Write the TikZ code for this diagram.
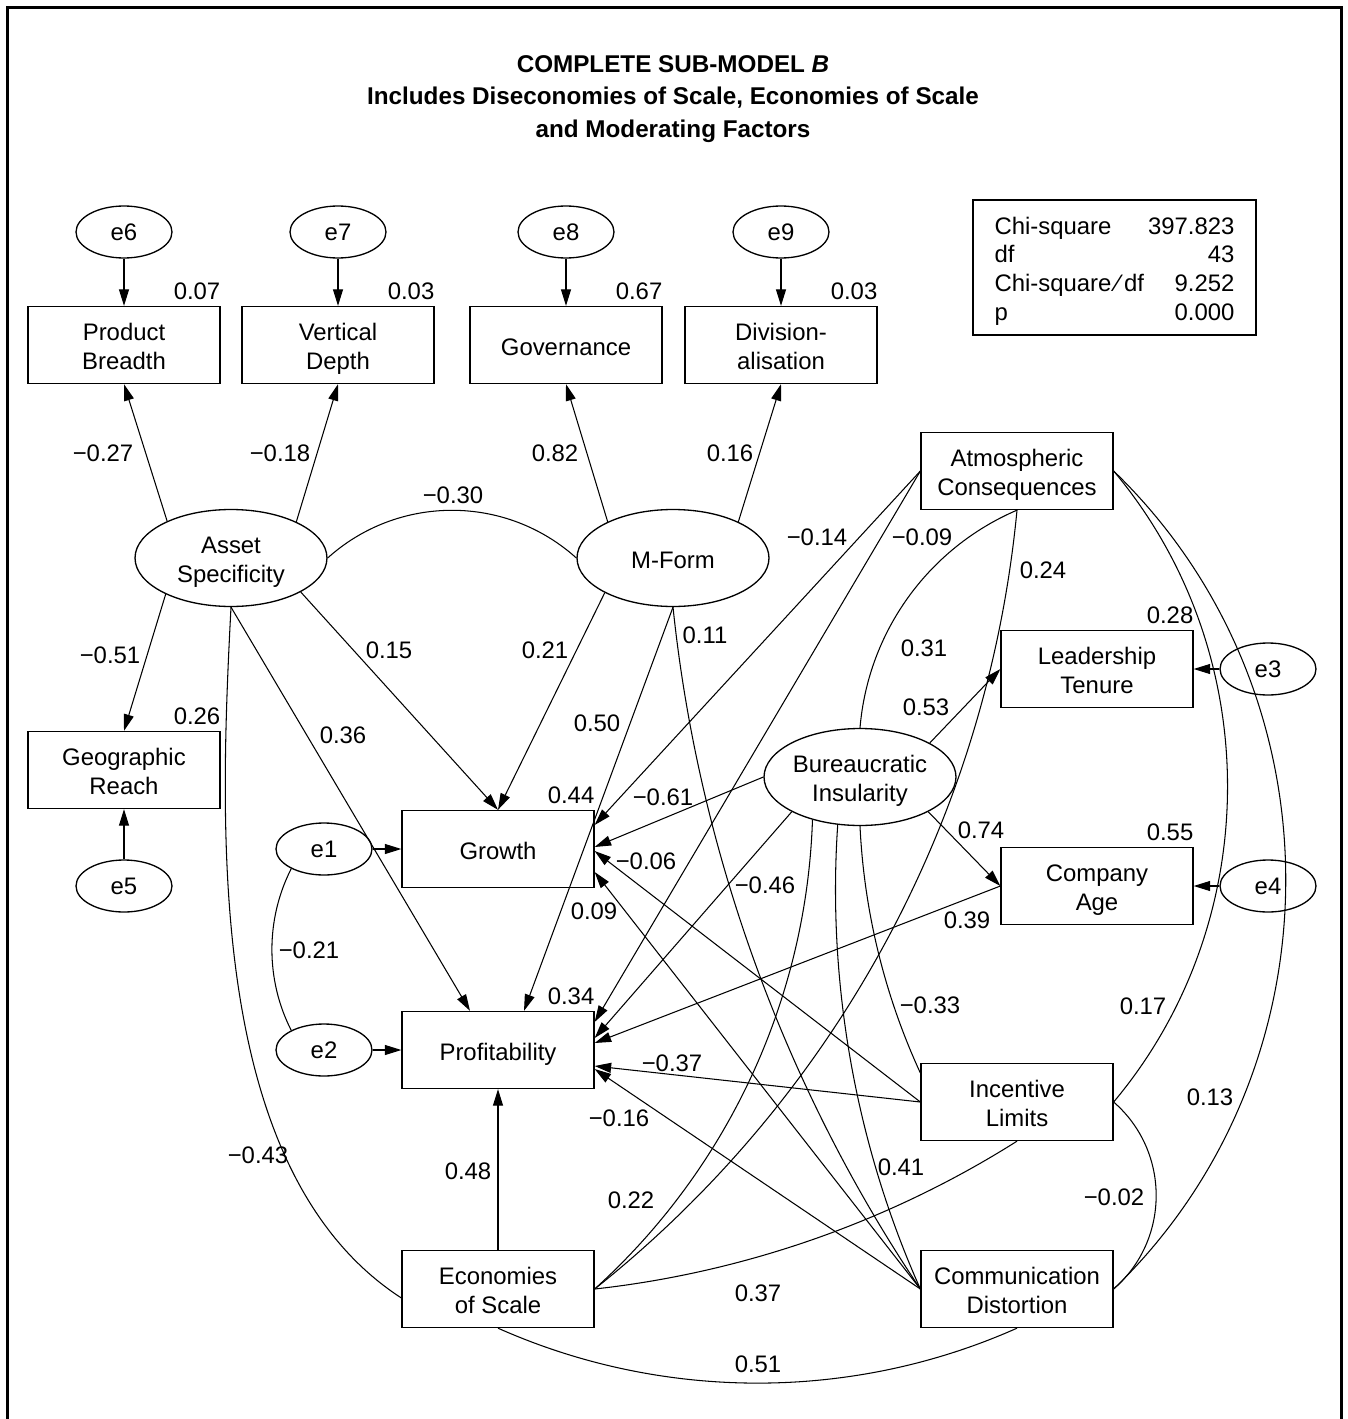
\documentclass[tikz,border=0pt]{standalone}
\usepackage{fontspec}
\setmainfont{Liberation Sans}
\usetikzlibrary{arrows.meta, calc, shapes.geometric}
\newcommand{\boxstrut}{\rule{0pt}{14.4pt}}

\begin{document}
\begin{tikzpicture}[x=0.02cm, y=0.02cm,
  >={Triangle[length=3.3mm, width=2mm]},
  every node/.style={font=\fontsize{13.6}{16.4}\selectfont},
  obs/.style={draw, line width=0.75pt, minimum width=3.84cm, minimum height=1.54cm, inner sep=0pt, align=center,
    execute at end node={\rule[-3pt]{0pt}{3pt}}},
  lat/.style={draw, ellipse, line width=0.75pt, minimum width=3.84cm, minimum height=1.94cm, inner sep=0pt, align=center,
    execute at end node={\rule[-3pt]{0pt}{3pt}}},
  err/.style={draw, ellipse, line width=0.75pt, minimum width=1.92cm, minimum height=1.04cm, inner sep=0pt},
  reg/.style={->, line width=0.6pt},
  cov/.style={line width=0.6pt},
  wt/.style={inner sep=0pt},
  sq/.style={anchor=south east, inner sep=0pt, yshift=1.2mm}
]
\useasboundingbox (0,0) rectangle (1348,-1419);
\draw[line width=1.7pt] (7.5,-1419) -- (7.5,-7.5) -- (1341,-7.5) -- (1341,-1419);

\node[align=center, font=\bfseries\fontsize{13.8}{18.7}\selectfont] (title) at (673,-99)
  {COMPLETE SUB-MODEL \textit{B}\\Includes Diseconomies of Scale, Economies of Scale\\and Moderating Factors};

\node[draw, line width=0.75pt, minimum width=5.66cm, minimum height=2.7cm, inner sep=0pt] (fit) at (1114.5,-267.5)
  {\begin{tabular*}{4.8cm}{@{}l@{\extracolsep{\fill}}r@{}}
   \rule{0pt}{16.1pt}Chi-square & 397.823\\ df & 43\\ Chi-square\hspace{2.5pt}∕\hspace{2.5pt}df & 9.252\\ p & 0.000
   \end{tabular*}};

% indicators
\node[err] (e6) at (124,-232) {e6};
\node[err] (e7) at (338,-232) {e7};
\node[err] (e8) at (566,-232) {e8};
\node[err] (e9) at (781,-232) {e9};
\node[obs] (breadth) at (124,-345) {\boxstrut Product\\Breadth};
\node[obs] (depth) at (338,-345) {\boxstrut Vertical\\Depth};
\node[obs] (gov) at (566,-345) {\boxstrut Governance};
\node[obs] (div) at (781,-345) {\boxstrut Division-\\alisation};
\node[obs] (geo) at (124,-770) {\boxstrut Geographic\\Reach};
\node[err] (e5) at (124,-886) {e5};

% latent factors
\node[lat] (asset) at (231,-558) {\boxstrut Asset\\Specificity};
\node[lat] (mform) at (673,-558) {\boxstrut M-Form};
\node[lat] (bureau) at (860,-777) {\boxstrut Bureaucratic\\Insularity};

% outcomes and moderators
\node[obs] (growth) at (498,-849) {\boxstrut Growth};
\node[obs] (profit) at (498,-1050) {\boxstrut Profitability};
\node[err] (e1) at (324,-849) {e1};
\node[err] (e2) at (324,-1050) {e2};
\node[obs] (econ) at (498,-1289) {\boxstrut Economies\\of Scale};
\node[obs] (atmos) at (1017,-471) {\boxstrut Atmospheric\\Consequences};
\node[obs] (tenure) at (1097,-669) {\boxstrut Leadership\\Tenure};
\node[obs] (age) at (1097,-886) {\boxstrut Company\\Age};
\node[err] (e3) at (1268,-669) {e3};
\node[err] (e4) at (1268,-886) {e4};
\node[obs] (incent) at (1017,-1102) {\boxstrut Incentive\\Limits};
\node[obs] (comm) at (1017,-1289) {\boxstrut Communication\\Distortion};

% squared multiple correlations
\node[sq] (r6) at (breadth.north east) {0.07};
\node[sq] (r7) at (depth.north east) {0.03};
\node[sq] (r8) at (gov.north east) {0.67};
\node[sq] (r9) at (div.north east) {0.03};
\node[sq] (r5) at (geo.north east) {0.26};
\node[sq] (r1) at (growth.north east) {0.44};
\node[sq] (r2) at (profit.north east) {0.34};
\node[sq] (r3) at (tenure.north east) {0.28};
\node[sq] (r4) at (age.north east) {0.55};

% error terms
\foreach \e/\v in {e6/breadth, e7/depth, e8/gov, e9/div, e5/geo, e1/growth, e2/profit, e3/tenure, e4/age}
  \draw[reg] (\e) -- (\v);

% regression weights
\draw[reg] (asset.150) -- (breadth.south);
\draw[reg] (asset.29) -- (depth.south);
\draw[reg] (mform.151) -- (gov.south);
\draw[reg] (mform.29) -- (div.south);
\draw[reg] (asset.209) -- (geo.north);
\draw[reg] (asset.334) -- (growth.north);
\draw[reg] (mform.207) -- (growth.north);
\draw[reg] (asset.south) -- ($(profit.north)+(-28,0)$);
\draw[reg] (mform.south) -- ($(profit.north)+(26,0)$);
\draw[reg] (econ) -- (profit);
\draw[reg] (bureau.26) -- (tenure.west);
\draw[reg] (bureau.333) -- (age.west);
\draw[reg] (bureau.west) -- ($(growth.east)+(0,2)$);
\draw[reg] (bureau.207) -- ($(profit.east)+(0,12)$);
\draw[reg] (atmos.west) -- ($(growth.east)+(0,24)$);
\draw[reg] (atmos.west) -- ($(profit.east)+(0,28)$);
\draw[reg] (age.west) -- ($(profit.east)+(0,7)$);
\draw[reg] (incent.west) -- ($(growth.east)+(0,-2)$);
\draw[reg] (incent.west) -- ($(profit.east)+(0,-16)$);
\draw[reg] (comm.west) -- ($(growth.east)+(0,-23)$);
\draw[reg] (comm.west) -- ($(profit.east)+(0,-19)$);

% covariances
\draw[cov] (asset.east) to[bend left=42, looseness=0.98] (mform.west);
\draw[cov] (asset.south) to[out=267, in=147, looseness=0.83] ($(econ.west)+(0,-9)$);
\draw[cov] (e1.211) to[bend right=27, looseness=0.9] (e2.149);
\draw[cov] (mform.south) to[bend right=14, looseness=0.86] (comm.west);
\draw[cov] (bureau.north) to[bend left=31, looseness=0.92] (atmos.south);
\draw[cov] (bureau.222) to[bend left=23, looseness=0.89] (econ.east);
\draw[cov] (atmos.south) to[bend left=23, looseness=0.89] (econ.east);
\draw[cov] (bureau.245) to[bend right=14, looseness=0.86] (comm.west);
\draw[cov] (bureau.south) to[bend right=11, looseness=0.86] ($(incent.west)+(0,29)$);
\draw[cov] (incent.south) to[bend left=13, looseness=0.86] (econ.east);
\draw[cov] (econ.south) to[bend right=24, looseness=0.89] (comm.south);
\draw[cov] (atmos.east) to[bend left=40, looseness=0.96] (incent.east);
\draw[cov] (atmos.east) to[bend left=46, looseness=1.0] (comm.east);
\draw[cov] (incent.east) to[bend left=49, looseness=1.03] (comm.east);

% path labels
\foreach \v/\px/\py [count=\k] in {−0.27/103/453, −0.18/280/453, 0.82/555/453, 0.16/730/453,
    −0.30/453/495, −0.51/110/655, 0.15/389/650, 0.21/545/650, 0.36/343/735, 0.50/597/723,
    0.11/705/635, −0.14/817/537, −0.09/922/537, 0.24/1043/570, 0.31/924/648, 0.53/926/707,
    −0.61/663/797, −0.06/646/861, 0.74/981/830, −0.46/765/885, 0.09/594/911, 0.39/967/920,
    −0.21/309/950, −0.33/930/1005, 0.17/1143/1006, −0.37/672/1063, −0.16/619/1118,
    0.13/1210/1097, −0.43/258/1155, 0.41/901/1167, 0.48/468/1171, −0.02/1114/1197,
    0.22/631/1200, 0.37/758/1293, 0.51/758/1364}
  \node[wt] (w\k) at (\px,-\py) {\v};
\end{tikzpicture}
\end{document}
